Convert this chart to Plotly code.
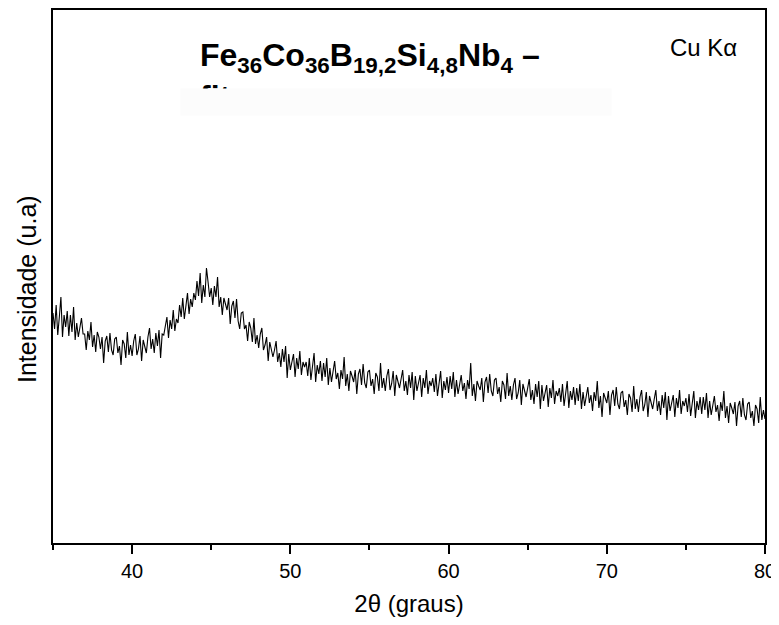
import plotly.graph_objects as go

# 2-theta start/step (degrees) and intensities (arbitrary units)
two_theta_start = 35.0
two_theta_step = 0.1
intensity = [
    230, 214, 238, 208, 226, 246, 206, 228, 216, 232,
    207, 228, 211, 236, 203, 220, 206, 216, 225, 209,
    209, 193, 212, 203, 221, 196, 208, 191, 211, 206,
    194, 206, 180, 202, 207, 191, 210, 193, 188, 204,
    206, 190, 197, 178, 203, 199, 185, 211, 188, 198,
    187, 202, 209, 188, 194, 207, 182, 203, 197, 190,
    206, 215, 194, 204, 190, 210, 197, 213, 185, 209,
    208, 216, 226, 205, 223, 214, 233, 212, 224, 220,
    238, 226, 245, 224, 237, 250, 229, 244, 236, 250,
    243, 262, 247, 270, 240, 258, 246, 275, 261, 246,
    255, 238, 257, 246, 266, 236, 246, 228, 245, 238,
    233, 245, 219, 237, 242, 225, 244, 222, 214, 230,
    231, 214, 218, 202, 221, 215, 201, 225, 199, 208,
    195, 209, 215, 193, 198, 206, 182, 201, 194, 186,
    193, 202, 181, 190, 176, 194, 181, 197, 165, 189,
    173, 181, 189, 166, 185, 174, 192, 168, 181, 176,
    181, 167, 185, 163, 176, 190, 161, 178, 169, 182,
    162, 180, 166, 185, 158, 175, 161, 171, 182, 164,
    170, 154, 173, 164, 186, 157, 169, 152, 172, 167,
    161, 173, 149, 169, 174, 158, 179, 160, 155, 171,
    173, 157, 164, 149, 170, 166, 152, 180, 155, 165,
    152, 167, 174, 153, 159, 172, 147, 168, 162, 155,
    164, 173, 152, 162, 148, 168, 155, 171, 143, 167,
    152, 160, 168, 146, 165, 155, 173, 149, 162, 157,
    165, 151, 169, 147, 160, 172, 145, 162, 153, 166,
    150, 167, 154, 171, 146, 163, 149, 159, 168, 152,
    160, 144, 163, 154, 180, 147, 159, 142, 162, 157,
    153, 165, 141, 161, 166, 150, 169, 152, 147, 163,
    165, 149, 156, 141, 162, 158, 144, 170, 147, 157,
    143, 158, 165, 144, 150, 163, 138, 159, 153, 146,
    155, 164, 143, 153, 139, 159, 146, 162, 134, 158,
    142, 150, 158, 136, 155, 145, 163, 139, 152, 147,
    155, 141, 159, 137, 150, 162, 135, 152, 143, 156,
    138, 155, 142, 159, 134, 151, 137, 147, 156, 140,
    148, 132, 151, 142, 162, 135, 147, 126, 150, 145,
    140, 152, 128, 148, 153, 137, 156, 139, 134, 150,
    152, 136, 143, 128, 149, 145, 131, 157, 134, 144,
    131, 146, 153, 132, 138, 151, 126, 147, 141, 134,
    144, 153, 132, 142, 128, 148, 135, 151, 123, 147,
    132, 140, 148, 126, 145, 135, 153, 129, 142, 137,
    145, 131, 149, 127, 140, 152, 125, 142, 133, 146,
    129, 146, 133, 150, 125, 142, 128, 138, 147, 131,
    138, 122, 141, 132, 152, 125, 137, 120, 140, 135,
    129, 141, 117, 137, 142, 126, 145, 128, 123, 139,
    141, 125, 132, 117, 138, 134, 120, 146, 123, 133,
    124,
]
two_theta = [round(two_theta_start + i * two_theta_step, 2) for i in range(len(intensity))]

x_tick_vals = [40, 50, 60, 70, 80]
x_tick_text = ["40", "50", "60", "70", "80"]

FONT = "Liberation Sans, Arial, sans-serif"

fig = go.Figure()
fig.add_trace(go.Scatter(
    x=two_theta, y=intensity, mode="lines",
    line=dict(color="black", width=1.1),
    showlegend=False, hoverinfo="skip",
))

# page body has an 8px margin, so the figure is kept smaller than the window
fig.update_layout(
    width=771, height=609,
    margin=dict(l=45, r=14, t=2, b=74),
    paper_bgcolor="white", plot_bgcolor="white",
    font=dict(family=FONT, color="black"),
    xaxis=dict(
        range=[35, 80], showgrid=False, zeroline=False,
        showline=True, linecolor="black", linewidth=1.6, mirror=True,
        tickmode="array", tickvals=x_tick_vals, ticktext=x_tick_text,
        ticks="outside", ticklen=9, tickwidth=1.5, tickcolor="black",
        tickfont=dict(size=20, family=FONT),
        minor=dict(dtick=5, tick0=35, ticks="outside", ticklen=5, tickwidth=1.5, tickcolor="black"),
        title=dict(text="2θ (graus)", font=dict(size=24, family=FONT), standoff=16),
        ticklabeloverflow="allow",
        automargin=False,
    ),
    yaxis=dict(
        range=[0, 533], showgrid=False, zeroline=False,
        showline=True, linecolor="black", linewidth=1.6, mirror=True,
        showticklabels=False, ticks="",
        automargin=False,
    ),
)

# y-axis title (placed slightly below the plot centre, as in the reference)
fig.add_annotation(
    xref="paper", yref="paper", x=(19 - 45) / 712, y=(535 - 281) / 533,
    xanchor="center", yanchor="middle", textangle=-90,
    text="Intensidade (u.a)", showarrow=False,
    font=dict(size=25, family=FONT, color="black"),
)

fig.add_annotation(
    xref="paper", yref="paper", x=0.204, y=0.953, xanchor="left", yanchor="top",
    text="<b>Fe<sub>36</sub>Co<sub>36</sub>B<sub>19,2</sub>Si<sub>4,8</sub>Nb<sub>4</sub> –<br>fita</b>",
    align="left",
    showarrow=False, font=dict(size=32, family=FONT, color="black"),
)
# light band that hides most of the second title line (as in the reference)
fig.add_annotation(
    xref="paper", yref="paper", x=0.179, y=(535 - 80) / 533, xanchor="left", yanchor="top",
    text=" ", width=430, height=26, bgcolor="#fcfcfc", borderpad=0,
    showarrow=False, font=dict(size=10, family=FONT),
)
fig.add_annotation(
    xref="paper", yref="paper", x=0.913, y=0.93, xanchor="center", yanchor="middle",
    text="Cu Kα", showarrow=False, font=dict(size=24, family=FONT, color="black"),
)

fig.write_html("out.html")
